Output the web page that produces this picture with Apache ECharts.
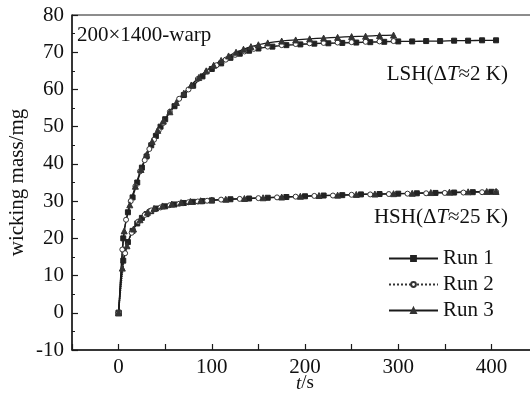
<!DOCTYPE html>
<html>
<head>
<meta charset="utf-8">
<script src="https://cdn.jsdelivr.net/npm/echarts@6/dist/echarts.min.js"></script>
<style>
html,body{margin:0;padding:0;background:#fff;}
#chart{width:530px;height:393px;}
</style>
</head>
<body>
<div id="chart"></div>
<script>
// ---- data ----
const legendNames = ['Run 1', 'Run 2', 'Run 3'];
const xTicks = [0, 100, 200, 300, 400];

const tLSH1 = [0,5,10,15,20,25,30,35,40,45,50,60,70,80,90,100,110,120,130,140,150,165,180,195,210,225,240,255,270,285,300,315,330,345,360,375,390,405];
const vLSH1 = [0,20,27,31,35,39,42,45,47.5,50,52,55.5,58.5,61,63.5,65.5,67,68.5,69.6,70.4,71,71.5,71.9,72.1,72.3,72.4,72.5,72.6,72.7,72.8,72.9,72.9,73,73,73.1,73.1,73.2,73.2];

const tLSH2 = [0,4,8,13,18,23,28,33,38,43,48,55,65,75,85,95,105,115,125,135,145,160,175,190,205,220,235,250,265,280,295];
const vLSH2 = [0,17,25,30,34,38,41,44,46.5,49,51,54,57.5,60,62.8,64.8,66.5,68,69.3,70.2,70.9,71.5,71.9,72.2,72.4,72.5,72.6,72.7,72.8,72.9,73];

const tLSH3 = [0,6,12,18,24,30,36,42,48,55,62,70,78,86,94,102,110,118,126,134,142,150,160,175,190,205,220,235,250,265,280,295];
const vLSH3 = [0,22,29,34,38.5,42.5,46,49,51.5,54,56.5,59,61.2,63.2,65,66.5,67.8,69,70,70.8,71.5,72,72.5,73,73.3,73.6,73.8,74,74.2,74.3,74.5,74.6];

const tHSH1 = [0,5,10,15,20,25,30,35,40,50,60,70,80,90,100,120,140,160,180,200,220,240,260,280,300,320,340,360,380,400];
const vHSH1 = [0,14,19,22,24,25.5,26.5,27.3,28,28.6,29.1,29.5,29.8,30,30.2,30.5,30.7,30.9,31.1,31.3,31.5,31.6,31.8,31.9,32,32.1,32.2,32.3,32.4,32.5];

const tHSH2 = [0,7,14,21,28,35,45,55,65,75,85,95,110,130,150,170,190,210,230,250,270,290,310,330,350,370,390,405];
const vHSH2 = [0,16,21.5,24.5,26.3,27.5,28.3,28.9,29.3,29.7,29.9,30.1,30.4,30.6,30.8,31,31.2,31.4,31.5,31.7,31.8,31.9,32,32.1,32.2,32.3,32.4,32.5];

const tHSH3 = [0,4,9,16,23,31,38,47,57,67,77,88,100,115,135,155,175,195,215,235,255,275,295,315,335,355,375,395,405];
const vHSH3 = [0,12,18,22.5,25,27,28,28.7,29.2,29.6,29.9,30.1,30.3,30.5,30.7,30.9,31.1,31.3,31.5,31.6,31.8,31.9,32,32.1,32.3,32.4,32.5,32.6,32.6];

// ---- build ----
const zip = (t, v) => t.map((x, i) => [x, v[i]]);
const SERIF = 'Liberation Serif';
const INK = '#1a1a1a';

const styles = {
  'Run 1': { symbol: 'rect', symbolSize: 5, itemStyle: { color: '#222', borderColor: '#222', borderWidth: 1 }, lineStyle: { color: INK, width: 1.3, type: 'solid' } },
  'Run 2': { symbol: 'circle', symbolSize: 5, itemStyle: { color: '#fff', borderColor: '#333', borderWidth: 1 }, lineStyle: { color: '#333', width: 1, type: 'dotted' } },
  'Run 3': { symbol: 'triangle', symbolSize: 6, itemStyle: { color: '#333', borderColor: '#333', borderWidth: 1 }, lineStyle: { color: INK, width: 1.2, type: 'solid' } }
};

function mk(name, t, v) {
  const s = styles[name];
  return {
    name: name, type: 'line', data: zip(t, v),
    symbol: s.symbol, symbolSize: s.symbolSize, showSymbol: true,
    itemStyle: s.itemStyle, lineStyle: s.lineStyle,
    smooth: 0.2, animation: false, z: 3
  };
}

const series = [
  mk('Run 1', tLSH1, vLSH1),
  mk('Run 1', tHSH1, vHSH1),
  mk('Run 2', tLSH2, vLSH2),
  mk('Run 2', tHSH2, vHSH2),
  mk('Run 3', tLSH3, vLSH3),
  mk('Run 3', tHSH3, vHSH3)
];

const chart = echarts.init(document.getElementById('chart'), null, { renderer: 'canvas' });
chart.setOption({
  backgroundColor: '#fff',
  animation: false,
  grid: { left: 72, top: 15, width: 466, height: 335, containLabel: false, outerBoundsMode: 'none',
          show: true, borderColor: INK, borderWidth: 1, backgroundColor: 'transparent' },
  xAxis: {
    type: 'value', min: -50, max: 450, interval: 50,
    axisLine: { show: true, onZero: false, lineStyle: { color: INK, width: 1.5 } },
    axisTick: { show: true, inside: true, length: 6, lineStyle: { color: INK, width: 1.2 } },
    splitLine: { show: false },
    axisLabel: {
      margin: 7, fontFamily: SERIF, fontSize: 21, color: '#111',
      formatter: v => (xTicks.indexOf(v) >= 0 ? String(v) : '')
    },
    name: '{i|t}/s', nameLocation: 'middle', nameGap: 24, nameMoveOverlap: false,
    nameTextStyle: {
      fontFamily: SERIF, fontSize: 19, color: '#111',
      rich: { i: { fontFamily: SERIF, fontSize: 19, fontStyle: 'italic', color: '#111' } }
    }
  },
  yAxis: {
    type: 'value', min: -10, max: 80, interval: 10,
    axisLine: { show: true, onZero: false, lineStyle: { color: INK, width: 1.5 } },
    axisTick: { show: true, inside: true, length: 6, lineStyle: { color: INK, width: 1.2 } },
    minorTick: { show: true, splitNumber: 2, length: 3, lineStyle: { color: INK, width: 1 } },
    splitLine: { show: false },
    axisLabel: { margin: 8, fontFamily: SERIF, fontSize: 21, color: '#111' },
    name: 'wicking mass/mg', nameLocation: 'middle', nameGap: 44, nameRotate: 90, nameMoveOverlap: false,
    nameTextStyle: { fontFamily: SERIF, fontSize: 21, color: '#111' }
  },
  legend: {
    data: legendNames, orient: 'vertical', left: 388, top: 248, padding: 0,
    itemWidth: 49, itemHeight: 6, itemGap: 5,
    textStyle: { fontFamily: SERIF, fontSize: 21, color: '#111', padding: [0, 0, 0, 0] },
    selectedMode: false
  },
  graphic: [
    { type: 'text', x: 77, y: 35, z: 10,
      style: { text: '200×1400-warp', font: '21px "Liberation Serif"', fill: '#111', align: 'left', verticalAlign: 'middle' } },
    { type: 'text', x: 508, y: 74, z: 10,
      style: { text: '{a|LSH(Δ}{i|T}{a|≈2 K)}', align: 'right', verticalAlign: 'middle',
        rich: { a: { fontFamily: SERIF, fontSize: 21, fill: '#111', color: '#111' },
                i: { fontFamily: SERIF, fontSize: 21, fontStyle: 'italic', fill: '#111', color: '#111' } } } },
    { type: 'text', x: 508, y: 217, z: 10,
      style: { text: '{a|HSH(Δ}{i|T}{a|≈25 K)}', align: 'right', verticalAlign: 'middle',
        rich: { a: { fontFamily: SERIF, fontSize: 21, fill: '#111', color: '#111' },
                i: { fontFamily: SERIF, fontSize: 21, fontStyle: 'italic', fill: '#111', color: '#111' } } } }
  ],
  series: series
});
</script>
</body>
</html>
